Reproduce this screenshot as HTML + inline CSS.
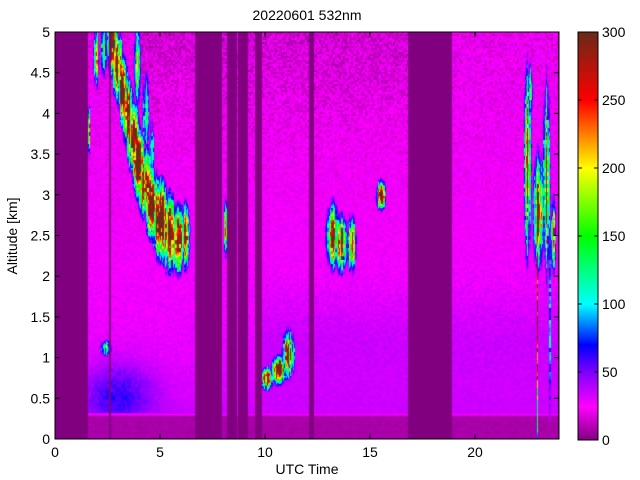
<!DOCTYPE html>
<html><head><meta charset="utf-8"><style>
body{margin:0;background:#fff;width:640px;height:480px;overflow:hidden;font-family:"Liberation Sans",sans-serif}
#wrap{position:relative;width:640px;height:480px}
canvas{position:absolute}
svg{position:absolute;left:0;top:0}
text{font-family:"Liberation Sans",sans-serif;font-size:14px;fill:#000}
</style></head><body>
<div id="wrap">
<canvas id="hm" width="504" height="407" style="left:55px;top:32px"></canvas>
<canvas id="cb" width="20" height="408" style="left:578px;top:32px"></canvas>
<svg id="ax" width="640" height="480"></svg>
</div>
<script>
// ---- data ----
const gaps = [[0,1.55],[2.55,2.65],[6.65,7.95],[8.15,8.65],[8.7,9.15],[9.5,9.85],[12.05,12.3],[16.8,18.9],[23.92,24]];
// blobs: [time(h), altitude(km), time radius, alt radius, peak value]
const blobs = [
 [2.7,4.9,.2,.35,380],[2.95,4.6,.2,.35,380],[3.2,4.3,.2,.35,380],[3.45,4.0,.22,.35,370],[3.7,3.7,.25,.35,360],
 [3.95,3.4,.25,.35,350],[4.25,3.15,.28,.35,330],[4.6,2.9,.3,.35,350],[5.0,2.7,.35,.4,360],[5.4,2.55,.3,.4,340],[5.8,2.45,.3,.35,320],[6.2,2.5,.2,.35,260],
 [3.9,4.6,.15,.5,150],[4.3,4.0,.15,.5,140],[4.6,3.5,.12,.4,120],
 [1.95,4.7,.12,.3,220],[2.3,4.8,.12,.3,260],
 [1.6,3.8,.05,.25,320],[2.4,1.12,.25,.1,170],
 [8.1,2.6,.06,.3,320],[9.0,2.5,.06,.4,320],[9.6,2.7,.06,.3,220],
 [10.1,0.75,.25,.12,380],[10.6,0.85,.3,.15,360],[11.1,1.05,.25,.25,280],
 [12.2,3.2,.05,.6,270],
 [13.2,2.5,.25,.35,340],[13.6,2.4,.25,.3,320],[14.1,2.4,.2,.3,230],
 [15.5,3.0,.2,.15,330],
 [22.5,3.4,.15,1.0,280],[23.0,2.8,.2,.6,310],[23.4,3.2,.15,1.0,280],[22.6,4.3,.1,.3,220],[23.7,2.5,.1,.4,280],
 [22.95,1.5,.03,1.3,250],[23.55,1.5,.03,1.3,230]
];
const bgZ   = [0,0.28,0.32,0.4,0.6,1,2,3,4,5];
const bgVal = [8,8,35,34,32,30,27,25,24,22];
const aerosol = [3.0,1.6,0.55,0.35,30]; // centre time, time width, centre alt, alt width, strength
const cbTicks = [0,50,100,150,200,250,300];
const xTicks = [0,5,10,15,20];
const yTicks = [0,0.5,1,1.5,2,2.5,3,3.5,4,4.5,5];
// ---- scales ----
const PX=55,PY=32,PW=504,PH=407;
const xs=t=>PX+t/24*PW, ys=z=>PY+PH-z/5*PH;
const stops=[[0,128,0,128],[25,255,0,255],[50,128,0,255],[70,0,0,255],[100,0,255,255],[150,0,255,0],[200,255,255,0],[250,255,0,0],[300,107,42,26]];
function cmap(v){v=Math.max(0,Math.min(300,v));for(let i=1;i<stops.length;i++){if(v<=stops[i][0]){const a=stops[i-1],b=stops[i],f=(v-a[0])/(b[0]-a[0]);return[a[1]+f*(b[1]-a[1]),a[2]+f*(b[2]-a[2]),a[3]+f*(b[3]-a[3])];}}return stops[8].slice(1);}
function hash(x,y){let h=(x*374761393+y*668265263)|0;h=(h^(h>>>13))*1274126177|0;return((h^(h>>>16))>>>0)/4294967295;}
function bg(z){for(let i=1;i<bgZ.length;i++)if(z<=bgZ[i]){const f=(z-bgZ[i-1])/(bgZ[i]-bgZ[i-1]);return bgVal[i-1]+f*(bgVal[i]-bgVal[i-1]);}return bgVal[bgVal.length-1];}
const hm=document.getElementById('hm').getContext('2d');
const img=hm.createImageData(PW,PH);
for(let py=0;py<PH;py++){const z=(PH-py)/PH*5;
 for(let px=0;px<PW;px++){const t=px/PW*24;let v;
  if(gaps.some(g=>t>=g[0]&&t<g[1])) v=0;
  else{
   v=bg(z)+(hash(px>>1,py>>1)-0.5)*(3+z*3);
   if(t>4&&t<16.8&&z>3.2) v-=5*(z-3.2)*(hash(px,py>>1)>0.35?1:0.1);
   if(z>0.32){const a=aerosol;v+=a[4]*Math.exp(-Math.pow((t-a[0])/a[1],2)-Math.pow((z-a[2])/a[3],2))*(0.8+0.4*hash(px>>1,py>>2));}
   if(t>9.8&&z>0.4&&z<2.2) v+=6*(1-Math.abs(z-1.2)/1);
   let c=0;
   const colN=0.55+0.8*hash(px,7), rowN=0.7+0.6*hash(px>>1,py>>2);
   for(const b of blobs){const dx=(t-b[0])/b[2],dy=(z-b[1])/b[3];const d=dx*dx+dy*dy;if(d<2)c=Math.max(c,b[4]*Math.exp(-d*1.1)*colN*rowN);}
   if(c>35) v=Math.max(v,c);
  }
  const col=cmap(v),k=(py*PW+px)*4;img.data[k]=col[0];img.data[k+1]=col[1];img.data[k+2]=col[2];img.data[k+3]=255;}}
hm.putImageData(img,0,0);
const cb=document.getElementById('cb').getContext('2d');
for(let y=0;y<408;y++){const c=cmap((408-y)/408*300);cb.fillStyle=`rgb(${c[0]|0},${c[1]|0},${c[2]|0})`;cb.fillRect(0,y,20,1);}
// ---- axes ----
const svg=document.getElementById('ax');const NS='http://www.w3.org/2000/svg';
function el(tag,attrs,txt){const e=document.createElementNS(NS,tag);for(const k in attrs)e.setAttribute(k,attrs[k]);if(txt!==undefined)e.textContent=txt;svg.appendChild(e);return e;}
let e;
e=el('rect',{x:PX,y:PY,width:PW,height:PH,fill:'none',stroke:'#000','stroke-width':1});


xTicks.forEach(t=>{const x=xs(t);
 el('line',{x1:x,y1:PY+PH,x2:x,y2:PY+PH-5,stroke:'#000'});el('line',{x1:x,y1:PY,x2:x,y2:PY+5,stroke:'#000'});
 e=el('text',{x:x,y:457,'text-anchor':'middle'},String(t));
 
 });
yTicks.forEach(z=>{const y=ys(z);
 el('line',{x1:PX,y1:y,x2:PX+5,y2:y,stroke:'#000'});el('line',{x1:PX+PW,y1:y,x2:PX+PW-5,y2:y,stroke:'#000'});
 e=el('text',{x:50,y:y+5,'text-anchor':'end'},String(z));
 
 });
e=el('rect',{x:578,y:32,width:20,height:408,fill:'none',stroke:'#000'});


cbTicks.forEach(v=>{const y=440-v/300*408;
 el('line',{x1:578,y1:y,x2:582,y2:y,stroke:'#000'});el('line',{x1:598,y1:y,x2:594,y2:y,stroke:'#000'});
 e=el('text',{x:602,y:y+5},String(v));
 
 });
e=el('text',{x:307,y:474,'text-anchor':'middle','font-size':'15px'},'UTC Time');


e=el('text',{x:0,y:0,'text-anchor':'middle',transform:'translate(17,236) rotate(-90)'},'Altitude [km]');


e=el('text',{x:307,y:20,'text-anchor':'middle'},'20220601 532nm');


</script>
</body></html>
